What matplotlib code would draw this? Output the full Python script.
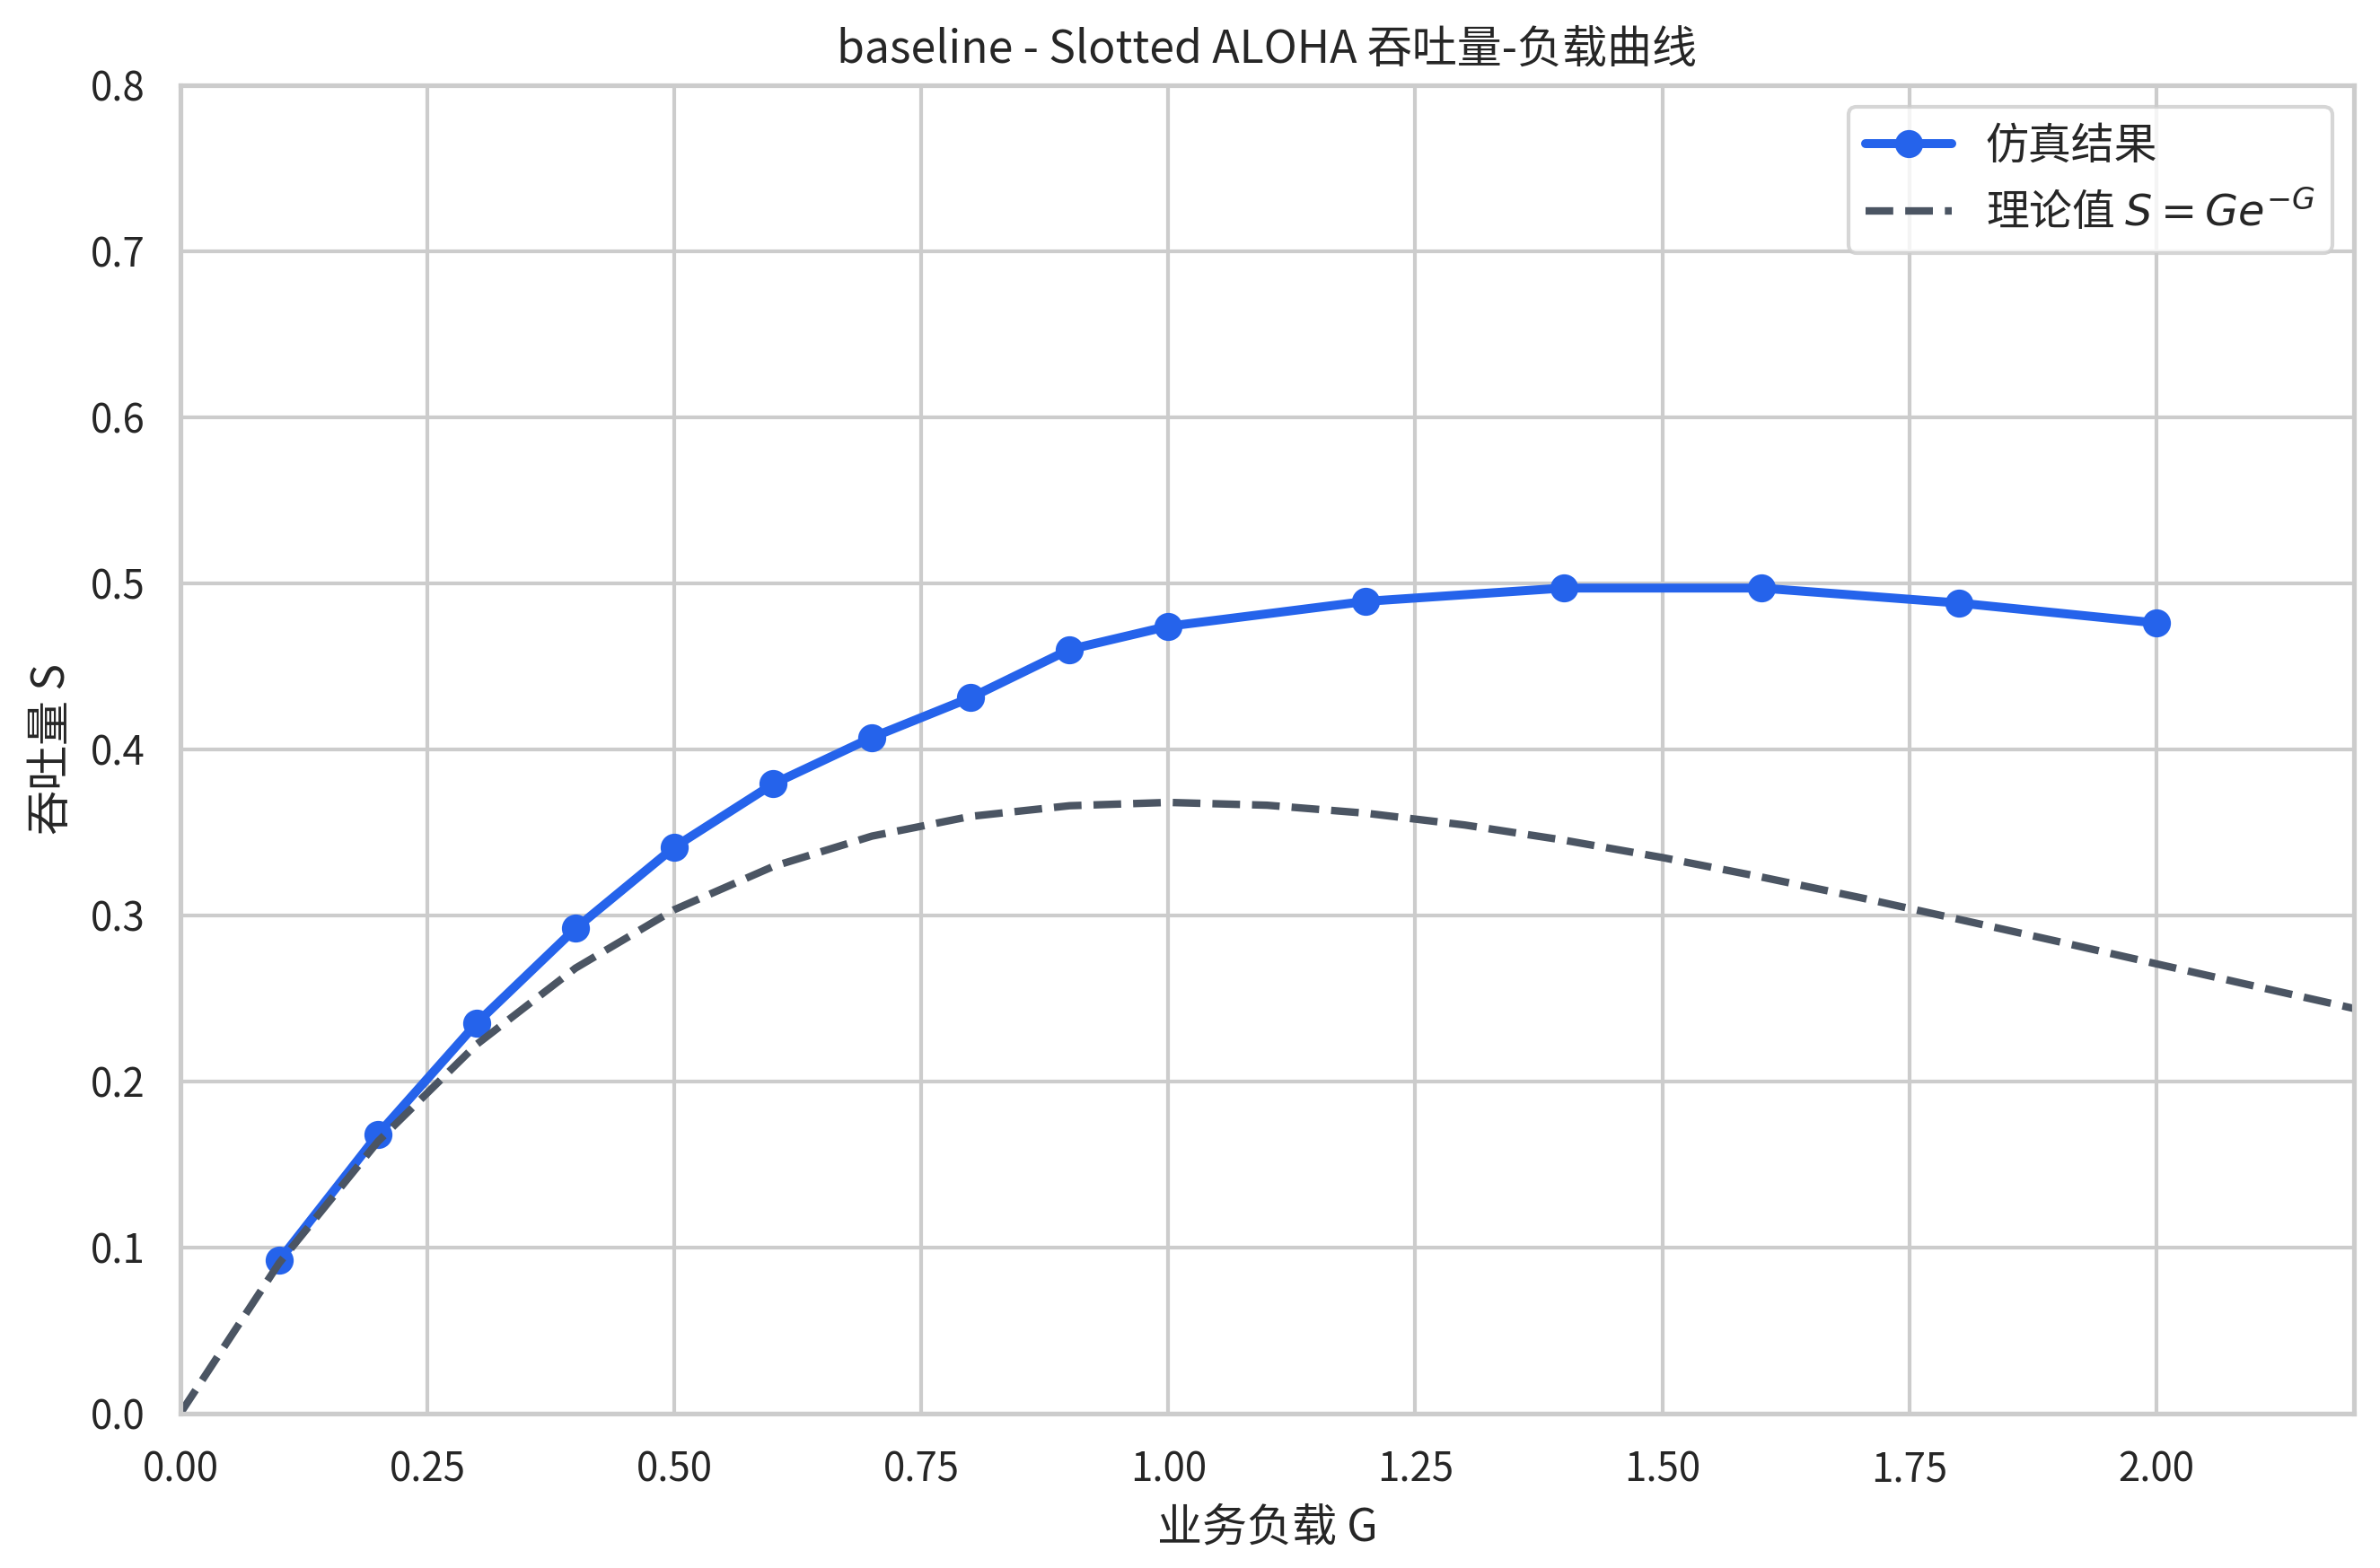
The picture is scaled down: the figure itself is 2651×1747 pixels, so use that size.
import matplotlib
matplotlib.use("Agg")
import matplotlib.pyplot as plt
import seaborn as sns

# simulated throughput
sim_g = [0.1, 0.2, 0.3, 0.4, 0.5, 0.6, 0.7, 0.8, 0.9, 1.0, 1.2, 1.4, 1.6, 1.8, 2.0]
sim_s = [0.092, 0.168, 0.235, 0.292, 0.341, 0.379, 0.407, 0.431, 0.460, 0.474,
         0.489, 0.497, 0.497, 0.488, 0.476]

# theoretical curve S = G e^-G
theory_g = [0.0, 0.1, 0.2, 0.3, 0.4, 0.5, 0.6, 0.7, 0.8, 0.9, 1.0, 1.1,
            1.2, 1.3, 1.4, 1.5, 1.6, 1.7, 1.8, 1.9, 2.0, 2.1, 2.2]
theory_s = [0.0, 0.0905, 0.1637, 0.2222, 0.2681, 0.3033, 0.3293, 0.3476,
            0.3595, 0.3659, 0.3679, 0.3662, 0.3614, 0.3543, 0.3452, 0.3347,
            0.3230, 0.3106, 0.2975, 0.2842, 0.2707, 0.2572, 0.2438]

sns.set_theme(style="whitegrid")
plt.rcParams['font.family'] = ['Noto Sans CJK SC', 'DejaVu Sans']
plt.rcParams['axes.unicode_minus'] = False

fig = plt.figure(figsize=(2651 / 300, 1747 / 300), dpi=300)
ax = fig.add_axes([0.0758, 0.0987, 0.9132, 0.8471])

ax.plot(sim_g, sim_s, color='#2563eb', lw=2.4, marker='o', markersize=6.5,
        label='仿真结果')
ax.plot(theory_g, theory_s, color='#4b5563', lw=2.0, ls='--',
        label='理论值 $S=Ge^{-G}$')

ax.set_xlim(0, 2.2)
ax.set_ylim(0, 0.8)
ax.set_xticks([0.0, 0.25, 0.5, 0.75, 1.0, 1.25, 1.5, 1.75, 2.0])
ax.set_xticklabels(['0.00', '0.25', '0.50', '0.75', '1.00', '1.25', '1.50', '1.75', '2.00'])
ax.set_yticks([0.0, 0.1, 0.2, 0.3, 0.4, 0.5, 0.6, 0.7, 0.8])
ax.set_yticklabels(['0.0', '0.1', '0.2', '0.3', '0.4', '0.5', '0.6', '0.7', '0.8'])
ax.tick_params(labelsize=10.5)

ax.set_xlabel('业务负载 G', fontsize=12)
ax.set_ylabel('吞吐量 S', fontsize=12)
ax.set_title('baseline - Slotted ALOHA 吞吐量-负载曲线', fontsize=12)
ax.legend(loc='upper right', fontsize=11.5)

fig.savefig('out.png', dpi=300)
